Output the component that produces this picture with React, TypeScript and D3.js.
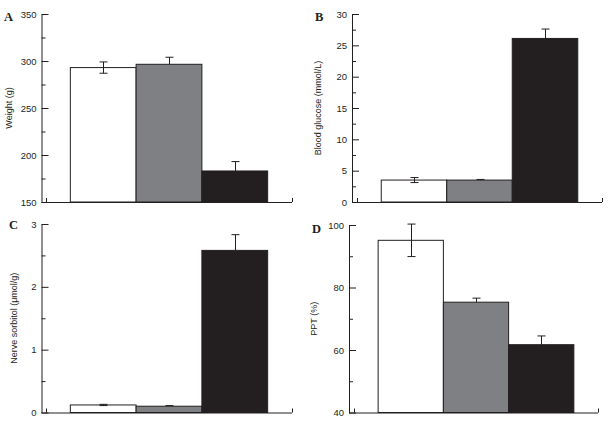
import React, { useEffect, useRef } from 'react';
import * as d3 from 'd3';

// three groups, no labels shown on the chart
const groups = ['g1', 'g2', 'g3'];

// A - body weight (g)
const weightMeans = [293, 296.5, 183];
const weightErr = [6, 7.5, 10];
const weightTicks = [150, 200, 250, 300, 350];
const weightMinor = [175, 225, 275, 325];

// B - blood glucose (mmol/L)
const glucoseMeans = [3.5, 3.5, 26.1];
const glucoseErr = [0.4, 0.1, 1.5];
const glucoseTicks = [0, 5, 10, 15, 20, 25, 30];
const glucoseMinor = [2.5, 7.5, 12.5, 17.5, 22.5, 27.5];

// C - nerve sorbitol (umol/g)
const sorbitolMeans = [0.12, 0.1, 2.58];
const sorbitolErr = [0.01, 0.01, 0.25];
const sorbitolTicks = [0, 1, 2, 3];
const sorbitolMinor = [0.5, 1.5, 2.5];

// D - PPT (%)
const pptMeans = [95.1, 75.3, 61.7];
const pptErr = [5.2, 1.3, 2.8];
const pptTicks = [40, 60, 80, 100];
const pptMinor = [50, 70, 90];

const fills = ['#ffffff', '#7f8083', '#231f20'];
const ink = '#231f20';
const sans = '"Liberation Sans", Arial, sans-serif';

const panels = [
  { letter: 'A', title: 'Weight (g)', means: weightMeans, err: weightErr, ticks: weightTicks, minor: weightMinor,
    axisX: 41.5, top: 14, bottom: 202, xStart: 46, xEnd: 292, titleX: 10, letterX: 4, letterY: 21 },
  { letter: 'B', title: 'Blood glucose (mmol/L)', means: glucoseMeans, err: glucoseErr, ticks: glucoseTicks, minor: glucoseMinor,
    axisX: 352, top: 14, bottom: 202, xStart: 357, xEnd: 602, titleX: 319, letterX: 315, letterY: 21 },
  { letter: 'C', title: 'Nerve sorbitol (\u03bcmol/g)', means: sorbitolMeans, err: sorbitolErr, ticks: sorbitolTicks, minor: sorbitolMinor,
    axisX: 41.5, top: 224, bottom: 412.5, xStart: 46, xEnd: 292, titleX: 15, letterX: 9, letterY: 229 },
  { letter: 'D', title: 'PPT (%)', means: pptMeans, err: pptErr, ticks: pptTicks, minor: pptMinor,
    axisX: 349, top: 225, bottom: 412.5, xStart: 354, xEnd: 598, titleX: 315, letterX: 312, letterY: 233 },
];

export default function App() {
  const ref = useRef<SVGSVGElement>(null);

  useEffect(() => {
    const svg = d3.select(ref.current);
    svg.selectAll('*').remove();

    panels.forEach((p) => {
      const g = svg.append('g');
      const y = d3.scaleLinear()
        .domain([p.ticks[0], p.ticks[p.ticks.length - 1]])
        .range([p.bottom, p.top]);
      const x = d3.scaleBand()
        .domain(groups)
        .range([p.xStart, p.xEnd])
        .paddingInner(0)
        .paddingOuter(0.37);

      // bars
      g.selectAll('rect')
        .data(p.means)
        .enter().append('rect')
        .attr('x', (d, i) => x(groups[i]))
        .attr('y', d => y(d))
        .attr('width', x.bandwidth())
        .attr('height', d => p.bottom - y(d))
        .attr('fill', (d, i) => fills[i])
        .attr('stroke', ink)
        .attr('stroke-width', 1);

      // error bars (lower half only shows on the white bar)
      p.means.forEach((m, i) => {
        const cx = Math.round(x(groups[i]) + x.bandwidth() / 2) + 0.5;
        const hi = y(m + p.err[i]);
        const lo = i === 0 ? y(m - p.err[i]) : y(m);
        g.append('line').attr('x1', cx).attr('x2', cx).attr('y1', hi).attr('y2', lo)
          .attr('stroke', ink);
        g.append('line').attr('x1', cx - 4).attr('x2', cx + 4).attr('y1', hi).attr('y2', hi)
          .attr('stroke', ink);
        if (i === 0) {
          g.append('line').attr('x1', cx - 4).attr('x2', cx + 4).attr('y1', lo).attr('y2', lo)
            .attr('stroke', ink);
        }
      });

      // y axis, ticks pointing inward
      const yAxis = g.append('g')
        .attr('transform', `translate(${p.axisX},0)`)
        .call(d3.axisLeft(y).tickValues(p.ticks).tickSize(-7).tickSizeOuter(0).tickPadding(5)
          .tickFormat(d3.format('~g')));
      yAxis.select('.domain').attr('stroke', ink);
      yAxis.selectAll('line').attr('stroke', ink);
      yAxis.selectAll('text')
        .attr('fill', ink)
        .style('font-family', sans)
        .style('font-size', '9.5px');

      const minorAxis = g.append('g')
        .attr('transform', `translate(${p.axisX},0)`)
        .call(d3.axisLeft(y).tickValues(p.minor).tickSize(-4).tickSizeOuter(0).tickFormat(() => ''));
      minorAxis.select('.domain').remove();
      minorAxis.selectAll('line').attr('stroke', ink);

      // x axis line with end ticks
      g.append('path')
        .attr('d', `M${p.axisX},${p.bottom + 0.5}H${p.xEnd}M${p.xStart + 0.5},${p.bottom}v-4M${p.xEnd + 0.5},${p.bottom}v-4`)
        .attr('fill', 'none')
        .attr('stroke', ink);

      // axis title
      g.append('text')
        .attr('transform', `translate(${p.titleX},${(p.top + p.bottom) / 2}) rotate(-90)`)
        .attr('text-anchor', 'middle')
        .attr('dominant-baseline', 'middle')
        .attr('fill', ink)
        .style('font-family', sans)
        .style('font-size', '9px')
        .text(p.title);

      // panel letter
      g.append('text')
        .attr('x', p.letterX)
        .attr('y', p.letterY)
        .attr('fill', ink)
        .style('font-family', '"Liberation Serif", "Times New Roman", serif')
        .style('font-weight', 'bold')
        .style('font-size', '12.5px')
        .text(p.letter);
    });
  }, []);

  return (
    <svg
      ref={ref}
      width={611}
      height={427}
      style={{ position: 'absolute', left: 0, top: 0, background: '#fff' }}
    />
  );
}
